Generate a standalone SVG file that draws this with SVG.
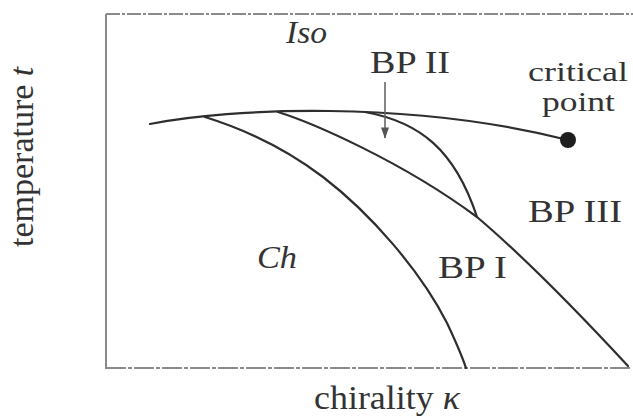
<svg xmlns="http://www.w3.org/2000/svg" width="633" height="418" viewBox="0 0 633 418">
  <style>
    .lbl { font-family: "Liberation Serif", "Times New Roman", serif; fill: #333; }
    .region { font-size: 32px; }
    .note { font-size: 27px; }
    .axis { font-size: 34px; }
    .it { font-style: italic; }
    .curve { fill: none; stroke: #2e2e2e; stroke-width: 2.2; stroke-linecap: round; }
    .frame { fill: none; stroke: #8a8a8a; stroke-width: 2; }
  </style>
  <defs>
    <marker id="arrowDown" viewBox="0 0 14 10" refX="13" refY="5" markerWidth="13" markerHeight="8" markerUnits="userSpaceOnUse" orient="auto">
      <path d="M0,0 L14,5 L0,10 Z" fill="#555"/>
    </marker>
  </defs>
  <rect width="633" height="418" fill="#ffffff"/>

  <g id="frame">
    <line class="frame" x1="106" y1="14" x2="106" y2="369"/>
    <line class="frame" x1="106" y1="14" x2="633" y2="14" stroke="#b0b0b0" stroke-width="1.6" stroke-dasharray="14 2 3 2"/>
    <line class="frame" x1="106" y1="368" x2="630" y2="368" stroke-dasharray="20 2 4 2"/>
  </g>

  <g id="connectors">
    <path id="iso-boundary" class="curve" d="M150,124 C230,108 410,100 568,140"/>
    <path id="ch-bp1-boundary" class="curve" d="M205,117 C250,131 290,152 323,177 C370,213 420,270 447,323 C455,340 461,353 466,368"/>
    <path id="bp1-bp3-boundary" class="curve" d="M278,112 C310,122 400,160 477,217 C530,262 590,325 628,366"/>
    <path id="bp2-boundary" class="curve" d="M365,112 C420,122 455,150 477,217"/>
    <line id="bp2-arrow" x1="385" y1="82" x2="385" y2="138" stroke="#666" stroke-width="1.6" marker-end="url(#arrowDown)"/>
  </g>

  <g id="critical-point">
    <circle cx="568" cy="140" r="8" fill="#1e1e1e"/>
    <text class="lbl note" x="528" y="81" textLength="100" lengthAdjust="spacingAndGlyphs">critical</text>
    <text class="lbl note" x="542" y="111" textLength="73" lengthAdjust="spacingAndGlyphs">point</text>
  </g>

  <g id="region-iso">
    <text class="lbl region it" x="286" y="43" textLength="41" lengthAdjust="spacingAndGlyphs">Iso</text>
  </g>
  <g id="region-bp2">
    <text class="lbl region" x="370" y="73" textLength="80" lengthAdjust="spacingAndGlyphs">BP II</text>
  </g>
  <g id="region-bp3">
    <text class="lbl region" x="528" y="222" textLength="94" lengthAdjust="spacingAndGlyphs">BP III</text>
  </g>
  <g id="region-bp1">
    <text class="lbl region" x="438" y="278" textLength="69" lengthAdjust="spacingAndGlyphs">BP I</text>
  </g>
  <g id="region-ch">
    <text class="lbl region it" x="257" y="268" textLength="40" lengthAdjust="spacingAndGlyphs">Ch</text>
  </g>

  <g id="axis-labels">
    <text class="lbl axis" x="314" y="409" textLength="146" lengthAdjust="spacingAndGlyphs">chirality <tspan class="it">κ</tspan></text>
    <text class="lbl axis" transform="translate(33,247) rotate(-90)" x="0" y="0">temperature <tspan class="it">t</tspan></text>
  </g>
</svg>
